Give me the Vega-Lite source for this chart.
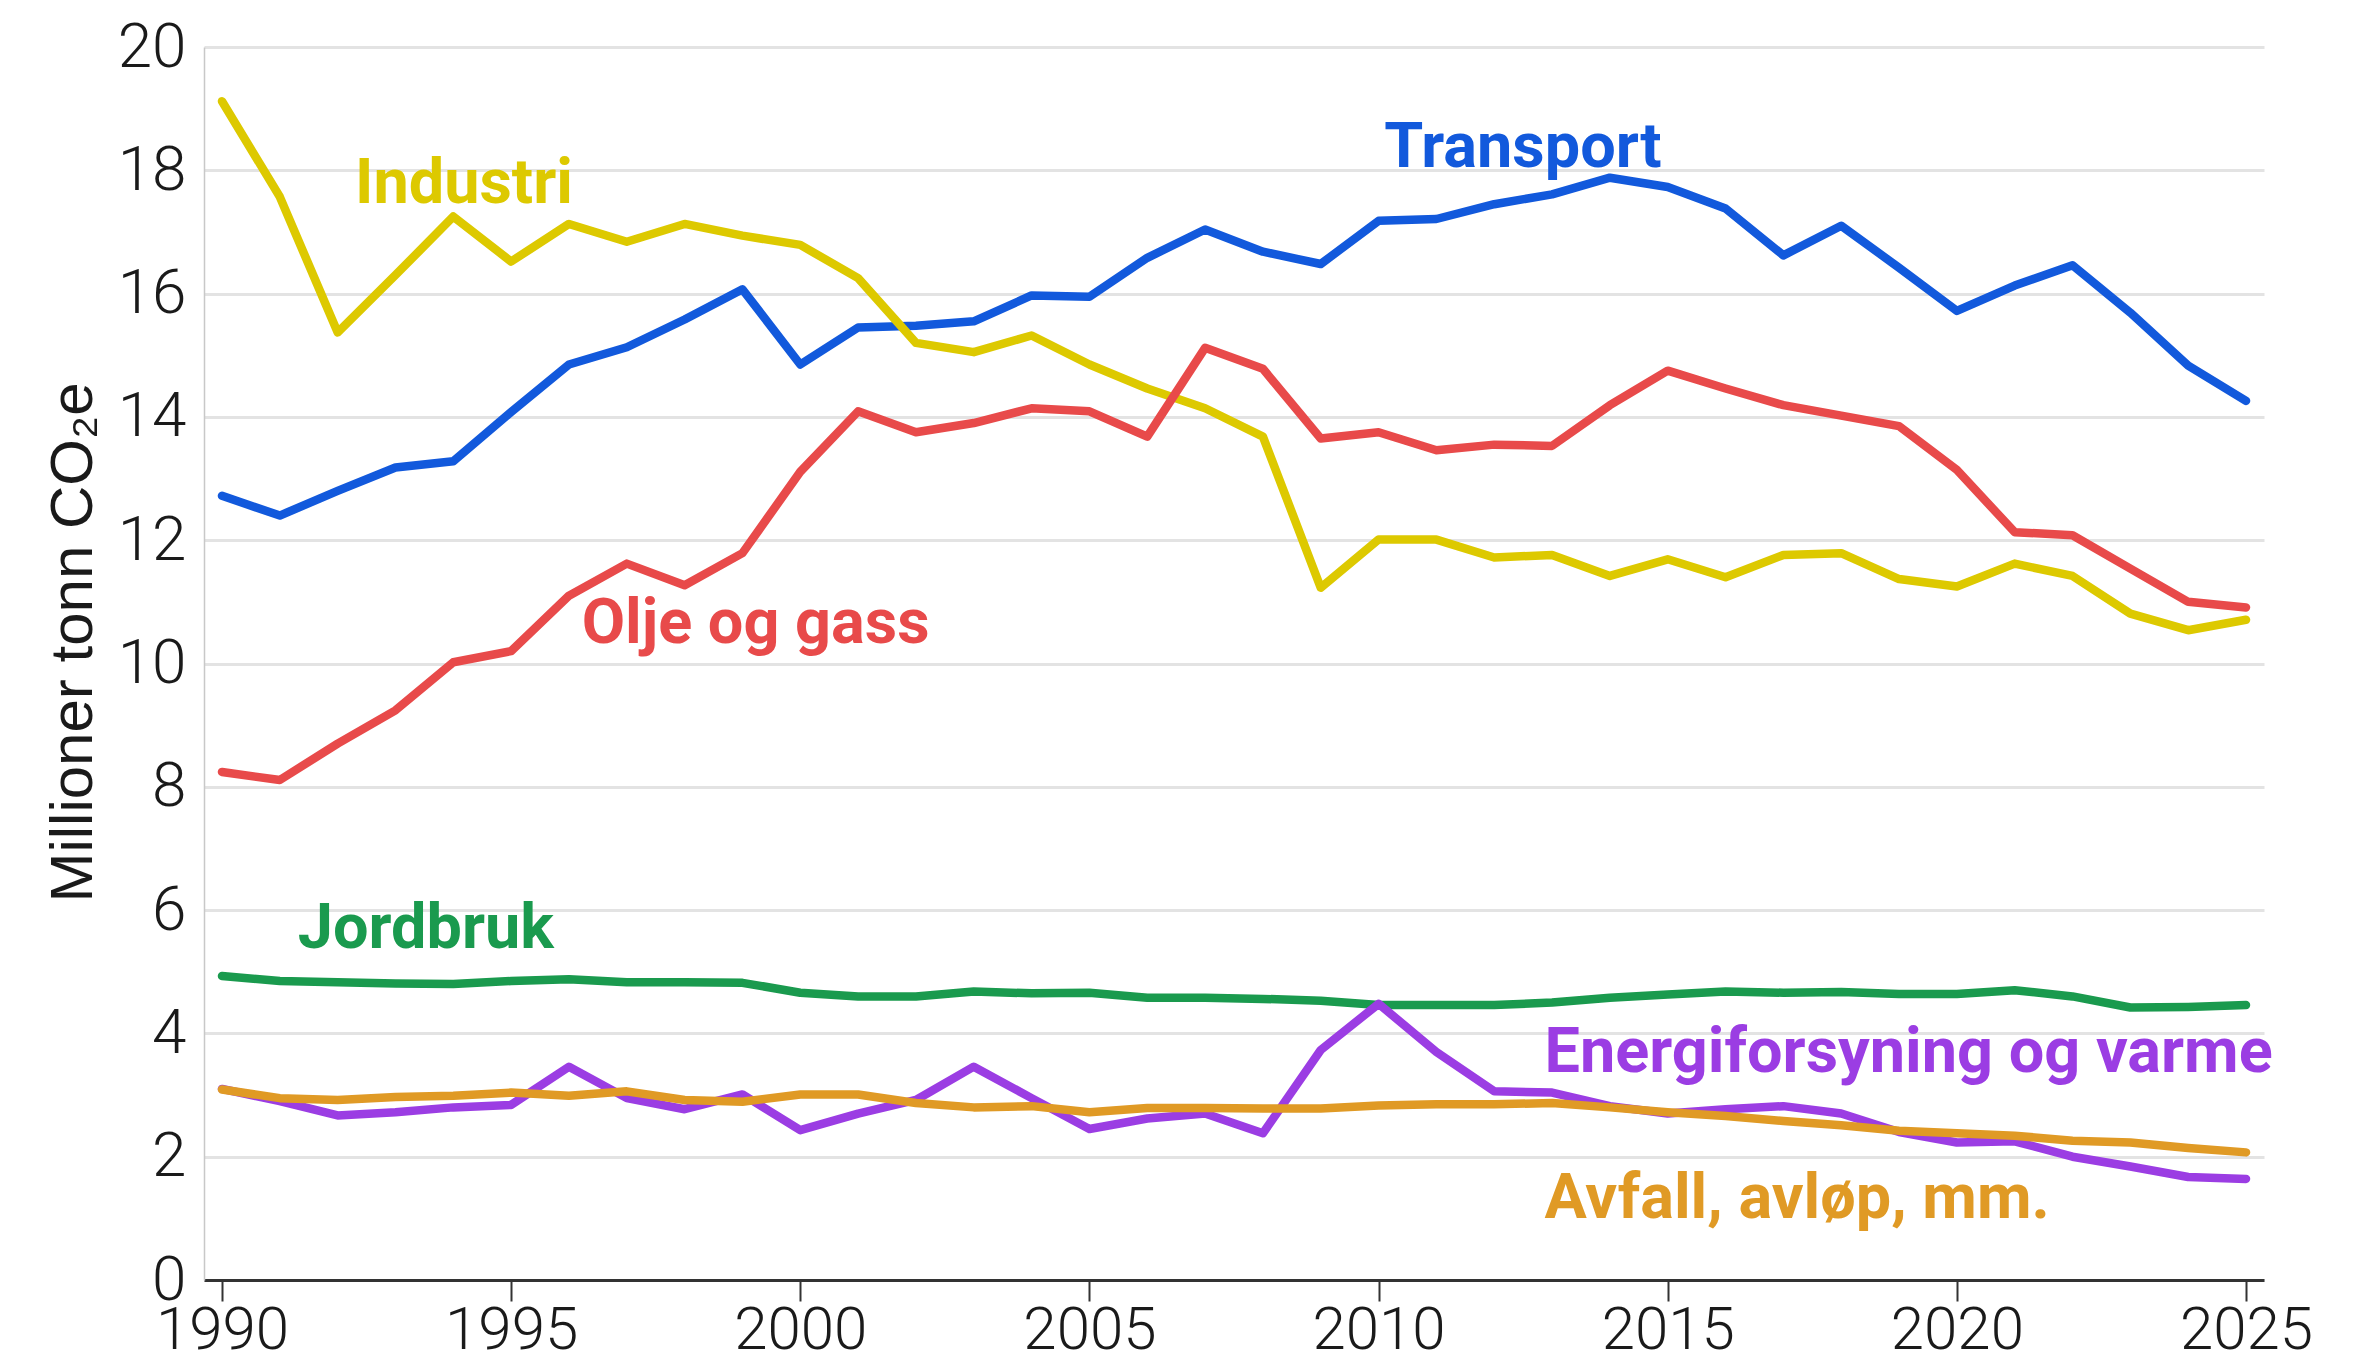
{
  "$schema": "https://vega.github.io/schema/vega-lite/v6.json",
  "width": 2060,
  "height": 1233,
  "autosize": {"type": "none"},
  "padding": {"left": 204, "top": 47, "right": 106, "bottom": 83},
  "background": "white",
  "config": {"view": {"stroke": null}},
  "datasets": {
    "series": [
      {"year":1990,"s":"Transport","v":12.72},{"year":1991,"s":"Transport","v":12.40},{"year":1992,"s":"Transport","v":12.80},{"year":1993,"s":"Transport","v":13.18},{"year":1994,"s":"Transport","v":13.28},{"year":1995,"s":"Transport","v":14.08},{"year":1996,"s":"Transport","v":14.85},{"year":1997,"s":"Transport","v":15.13},{"year":1998,"s":"Transport","v":15.58},{"year":1999,"s":"Transport","v":16.07},{"year":2000,"s":"Transport","v":14.85},{"year":2001,"s":"Transport","v":15.45},{"year":2002,"s":"Transport","v":15.48},{"year":2003,"s":"Transport","v":15.55},{"year":2004,"s":"Transport","v":15.97},{"year":2005,"s":"Transport","v":15.95},{"year":2006,"s":"Transport","v":16.58},{"year":2007,"s":"Transport","v":17.04},{"year":2008,"s":"Transport","v":16.68},{"year":2009,"s":"Transport","v":16.48},{"year":2010,"s":"Transport","v":17.18},{"year":2011,"s":"Transport","v":17.21},{"year":2012,"s":"Transport","v":17.45},{"year":2013,"s":"Transport","v":17.61},{"year":2014,"s":"Transport","v":17.88},{"year":2015,"s":"Transport","v":17.73},{"year":2016,"s":"Transport","v":17.38},{"year":2017,"s":"Transport","v":16.62},{"year":2018,"s":"Transport","v":17.10},{"year":2019,"s":"Transport","v":16.42},{"year":2020,"s":"Transport","v":15.72},{"year":2021,"s":"Transport","v":16.13},{"year":2022,"s":"Transport","v":16.46},{"year":2023,"s":"Transport","v":15.69},{"year":2024,"s":"Transport","v":14.83},{"year":2025,"s":"Transport","v":14.26},

      {"year":1990,"s":"Industri","v":19.12},{"year":1991,"s":"Industri","v":17.57},{"year":1992,"s":"Industri","v":15.37},{"year":1993,"s":"Industri","v":16.30},{"year":1994,"s":"Industri","v":17.25},{"year":1995,"s":"Industri","v":16.52},{"year":1996,"s":"Industri","v":17.13},{"year":1997,"s":"Industri","v":16.84},{"year":1998,"s":"Industri","v":17.13},{"year":1999,"s":"Industri","v":16.94},{"year":2000,"s":"Industri","v":16.79},{"year":2001,"s":"Industri","v":16.25},{"year":2002,"s":"Industri","v":15.20},{"year":2003,"s":"Industri","v":15.05},{"year":2004,"s":"Industri","v":15.32},{"year":2005,"s":"Industri","v":14.85},{"year":2006,"s":"Industri","v":14.46},{"year":2007,"s":"Industri","v":14.14},{"year":2008,"s":"Industri","v":13.68},{"year":2009,"s":"Industri","v":11.23},{"year":2010,"s":"Industri","v":12.01},{"year":2011,"s":"Industri","v":12.01},{"year":2012,"s":"Industri","v":11.72},{"year":2013,"s":"Industri","v":11.76},{"year":2014,"s":"Industri","v":11.42},{"year":2015,"s":"Industri","v":11.69},{"year":2016,"s":"Industri","v":11.40},{"year":2017,"s":"Industri","v":11.76},{"year":2018,"s":"Industri","v":11.79},{"year":2019,"s":"Industri","v":11.37},{"year":2020,"s":"Industri","v":11.25},{"year":2021,"s":"Industri","v":11.62},{"year":2022,"s":"Industri","v":11.42},{"year":2023,"s":"Industri","v":10.81},{"year":2024,"s":"Industri","v":10.54},{"year":2025,"s":"Industri","v":10.71},

      {"year":1990,"s":"Olje og gass","v":8.24},{"year":1991,"s":"Olje og gass","v":8.11},{"year":1992,"s":"Olje og gass","v":8.70},{"year":1993,"s":"Olje og gass","v":9.24},{"year":1994,"s":"Olje og gass","v":10.02},{"year":1995,"s":"Olje og gass","v":10.20},{"year":1996,"s":"Olje og gass","v":11.10},{"year":1997,"s":"Olje og gass","v":11.62},{"year":1998,"s":"Olje og gass","v":11.27},{"year":1999,"s":"Olje og gass","v":11.79},{"year":2000,"s":"Olje og gass","v":13.11},{"year":2001,"s":"Olje og gass","v":14.09},{"year":2002,"s":"Olje og gass","v":13.75},{"year":2003,"s":"Olje og gass","v":13.90},{"year":2004,"s":"Olje og gass","v":14.14},{"year":2005,"s":"Olje og gass","v":14.09},{"year":2006,"s":"Olje og gass","v":13.68},{"year":2007,"s":"Olje og gass","v":15.12},{"year":2008,"s":"Olje og gass","v":14.78},{"year":2009,"s":"Olje og gass","v":13.65},{"year":2010,"s":"Olje og gass","v":13.75},{"year":2011,"s":"Olje og gass","v":13.46},{"year":2012,"s":"Olje og gass","v":13.55},{"year":2013,"s":"Olje og gass","v":13.53},{"year":2014,"s":"Olje og gass","v":14.19},{"year":2015,"s":"Olje og gass","v":14.75},{"year":2016,"s":"Olje og gass","v":14.46},{"year":2017,"s":"Olje og gass","v":14.19},{"year":2018,"s":"Olje og gass","v":14.02},{"year":2019,"s":"Olje og gass","v":13.85},{"year":2020,"s":"Olje og gass","v":13.14},{"year":2021,"s":"Olje og gass","v":12.13},{"year":2022,"s":"Olje og gass","v":12.08},{"year":2023,"s":"Olje og gass","v":11.54},{"year":2024,"s":"Olje og gass","v":11.00},{"year":2025,"s":"Olje og gass","v":10.91},

      {"year":1990,"s":"Jordbruk","v":4.93},{"year":1991,"s":"Jordbruk","v":4.85},{"year":1992,"s":"Jordbruk","v":4.83},{"year":1993,"s":"Jordbruk","v":4.81},{"year":1994,"s":"Jordbruk","v":4.80},{"year":1995,"s":"Jordbruk","v":4.85},{"year":1996,"s":"Jordbruk","v":4.88},{"year":1997,"s":"Jordbruk","v":4.83},{"year":1998,"s":"Jordbruk","v":4.83},{"year":1999,"s":"Jordbruk","v":4.82},{"year":2000,"s":"Jordbruk","v":4.66},{"year":2001,"s":"Jordbruk","v":4.60},{"year":2002,"s":"Jordbruk","v":4.60},{"year":2003,"s":"Jordbruk","v":4.68},{"year":2004,"s":"Jordbruk","v":4.65},{"year":2005,"s":"Jordbruk","v":4.66},{"year":2006,"s":"Jordbruk","v":4.58},{"year":2007,"s":"Jordbruk","v":4.58},{"year":2008,"s":"Jordbruk","v":4.56},{"year":2009,"s":"Jordbruk","v":4.53},{"year":2010,"s":"Jordbruk","v":4.46},{"year":2011,"s":"Jordbruk","v":4.46},{"year":2012,"s":"Jordbruk","v":4.46},{"year":2013,"s":"Jordbruk","v":4.50},{"year":2014,"s":"Jordbruk","v":4.58},{"year":2015,"s":"Jordbruk","v":4.63},{"year":2016,"s":"Jordbruk","v":4.68},{"year":2017,"s":"Jordbruk","v":4.66},{"year":2018,"s":"Jordbruk","v":4.67},{"year":2019,"s":"Jordbruk","v":4.64},{"year":2020,"s":"Jordbruk","v":4.64},{"year":2021,"s":"Jordbruk","v":4.70},{"year":2022,"s":"Jordbruk","v":4.60},{"year":2023,"s":"Jordbruk","v":4.42},{"year":2024,"s":"Jordbruk","v":4.43},{"year":2025,"s":"Jordbruk","v":4.46},

      {"year":1990,"s":"Energiforsyning og varme","v":3.10},{"year":1991,"s":"Energiforsyning og varme","v":2.90},{"year":1992,"s":"Energiforsyning og varme","v":2.67},{"year":1993,"s":"Energiforsyning og varme","v":2.72},{"year":1994,"s":"Energiforsyning og varme","v":2.80},{"year":1995,"s":"Energiforsyning og varme","v":2.84},{"year":1996,"s":"Energiforsyning og varme","v":3.46},{"year":1997,"s":"Energiforsyning og varme","v":2.95},{"year":1998,"s":"Energiforsyning og varme","v":2.77},{"year":1999,"s":"Energiforsyning og varme","v":3.01},{"year":2000,"s":"Energiforsyning og varme","v":2.43},{"year":2001,"s":"Energiforsyning og varme","v":2.70},{"year":2002,"s":"Energiforsyning og varme","v":2.92},{"year":2003,"s":"Energiforsyning og varme","v":3.46},{"year":2004,"s":"Energiforsyning og varme","v":2.95},{"year":2005,"s":"Energiforsyning og varme","v":2.45},{"year":2006,"s":"Energiforsyning og varme","v":2.62},{"year":2007,"s":"Energiforsyning og varme","v":2.70},{"year":2008,"s":"Energiforsyning og varme","v":2.38},{"year":2009,"s":"Energiforsyning og varme","v":3.73},{"year":2010,"s":"Energiforsyning og varme","v":4.48},{"year":2011,"s":"Energiforsyning og varme","v":3.70},{"year":2012,"s":"Energiforsyning og varme","v":3.06},{"year":2013,"s":"Energiforsyning og varme","v":3.04},{"year":2014,"s":"Energiforsyning og varme","v":2.82},{"year":2015,"s":"Energiforsyning og varme","v":2.70},{"year":2016,"s":"Energiforsyning og varme","v":2.77},{"year":2017,"s":"Energiforsyning og varme","v":2.82},{"year":2018,"s":"Energiforsyning og varme","v":2.70},{"year":2019,"s":"Energiforsyning og varme","v":2.40},{"year":2020,"s":"Energiforsyning og varme","v":2.23},{"year":2021,"s":"Energiforsyning og varme","v":2.25},{"year":2022,"s":"Energiforsyning og varme","v":2.00},{"year":2023,"s":"Energiforsyning og varme","v":1.84},{"year":2024,"s":"Energiforsyning og varme","v":1.67},{"year":2025,"s":"Energiforsyning og varme","v":1.64},

      {"year":1990,"s":"Avfall, avløp, mm.","v":3.09},{"year":1991,"s":"Avfall, avløp, mm.","v":2.95},{"year":1992,"s":"Avfall, avløp, mm.","v":2.92},{"year":1993,"s":"Avfall, avløp, mm.","v":2.97},{"year":1994,"s":"Avfall, avløp, mm.","v":2.99},{"year":1995,"s":"Avfall, avløp, mm.","v":3.04},{"year":1996,"s":"Avfall, avløp, mm.","v":2.99},{"year":1997,"s":"Avfall, avløp, mm.","v":3.06},{"year":1998,"s":"Avfall, avløp, mm.","v":2.92},{"year":1999,"s":"Avfall, avløp, mm.","v":2.89},{"year":2000,"s":"Avfall, avløp, mm.","v":3.01},{"year":2001,"s":"Avfall, avløp, mm.","v":3.01},{"year":2002,"s":"Avfall, avløp, mm.","v":2.87},{"year":2003,"s":"Avfall, avløp, mm.","v":2.80},{"year":2004,"s":"Avfall, avløp, mm.","v":2.82},{"year":2005,"s":"Avfall, avløp, mm.","v":2.72},{"year":2006,"s":"Avfall, avløp, mm.","v":2.79},{"year":2007,"s":"Avfall, avløp, mm.","v":2.79},{"year":2008,"s":"Avfall, avløp, mm.","v":2.78},{"year":2009,"s":"Avfall, avløp, mm.","v":2.78},{"year":2010,"s":"Avfall, avløp, mm.","v":2.83},{"year":2011,"s":"Avfall, avløp, mm.","v":2.85},{"year":2012,"s":"Avfall, avløp, mm.","v":2.85},{"year":2013,"s":"Avfall, avløp, mm.","v":2.87},{"year":2014,"s":"Avfall, avløp, mm.","v":2.80},{"year":2015,"s":"Avfall, avløp, mm.","v":2.72},{"year":2016,"s":"Avfall, avløp, mm.","v":2.66},{"year":2017,"s":"Avfall, avløp, mm.","v":2.58},{"year":2018,"s":"Avfall, avløp, mm.","v":2.51},{"year":2019,"s":"Avfall, avløp, mm.","v":2.42},{"year":2020,"s":"Avfall, avløp, mm.","v":2.38},{"year":2021,"s":"Avfall, avløp, mm.","v":2.34},{"year":2022,"s":"Avfall, avløp, mm.","v":2.26},{"year":2023,"s":"Avfall, avløp, mm.","v":2.23},{"year":2024,"s":"Avfall, avløp, mm.","v":2.14},{"year":2025,"s":"Avfall, avløp, mm.","v":2.07}
    ],
    "labels": [
      {"s":"Industri","year":1992.3,"v":17.77},
      {"s":"Transport","year":2010.1,"v":18.36},
      {"s":"Olje og gass","year":1996.22,"v":10.64},
      {"s":"Jordbruk","year":1991.31,"v":5.69},
      {"s":"Energiforsyning og varme","year":2012.87,"v":3.68},
      {"s":"Avfall, avløp, mm.","year":2012.87,"v":1.32}
    ]
  },
  "layer": [
    {
      "data": {"name": "series"},
      "mark": {"type": "line", "strokeWidth": 8.5, "strokeJoin": "round", "strokeCap": "round"},
      "encoding": {
        "x": {
          "field": "year", "type": "quantitative",
          "scale": {"domain": [1989.689, 2025.311], "nice": false, "zero": false},
          "axis": {
            "title": null,
            "values": [1990, 1995, 2000, 2005, 2010, 2015, 2020, 2025],
            "format": "d",
            "grid": false,
            "domainColor": "#333333", "domainWidth": 3,
            "tickColor": "#333333", "tickWidth": 2, "tickSize": 21,
            "labelFont": "Roboto", "labelFontWeight": 300, "labelFontSize": 60, "labelColor": "#1a1a1a",
            "labelPadding": 0, "labelFlush": false
          }
        },
        "y": {
          "field": "v", "type": "quantitative",
          "scale": {"domain": [0, 20], "nice": false},
          "axis": {
            "title": "Millioner tonn CO₂e",
            "titleFont": "Liberation Sans", "titleFontWeight": "normal", "titleFontSize": 60, "titleColor": "#1a1a1a",
            "titleX": -131, "titleY": 595, "titleAlign": "center", "titleBaseline": "middle", "titleAngle": -90,
            "values": [0, 2, 4, 6, 8, 10, 12, 14, 16, 18, 20],
            "format": "d",
            "grid": true, "gridColor": "#e3e3e3", "gridWidth": 3,
            "domain": true, "domainColor": "#c8c8c8", "domainWidth": 1.5,
            "ticks": false,
            "labelFont": "Roboto", "labelFontWeight": 300, "labelFontSize": 62, "labelColor": "#1a1a1a",
            "labelPadding": 18
          }
        },
        "color": {
          "field": "s", "type": "nominal",
          "scale": {
            "domain": ["Transport", "Industri", "Olje og gass", "Jordbruk", "Energiforsyning og varme", "Avfall, avløp, mm."],
            "range": ["#1259dc", "#ddc900", "#e84a4a", "#1a9a4e", "#9b3de3", "#e09a25"]
          },
          "legend": null
        },
        "order": {"field": "year"}
      }
    },
    {
      "data": {"name": "labels"},
      "mark": {"type": "text", "align": "left", "baseline": "middle", "font": "Roboto", "fontWeight": "bold", "fontSize": 63},
      "encoding": {
        "x": {"field": "year", "type": "quantitative"},
        "y": {"field": "v", "type": "quantitative"},
        "text": {"field": "s"},
        "color": {"field": "s", "type": "nominal", "legend": null}
      }
    }
  ]
}
